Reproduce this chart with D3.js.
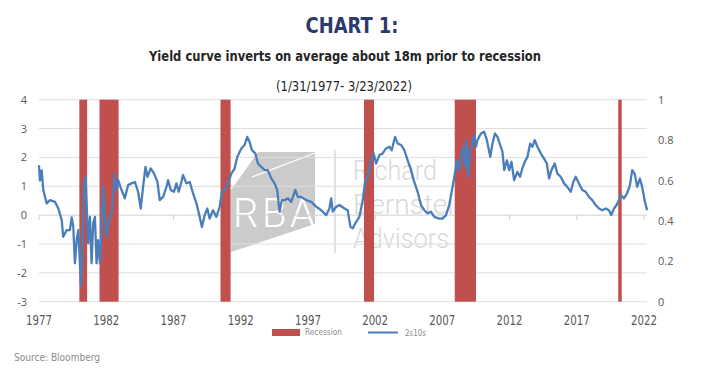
<!DOCTYPE html>
<html>
<head>
<meta charset="utf-8">
<script src="https://cdn.jsdelivr.net/npm/d3@7"></script>
<style>
  body { margin: 0; background: #fff; }
  svg { display: block; }
</style>
</head>
<body>
<svg id="chart"></svg>
<script>
// 2s10s spread (decimal year, percent)
const spreadYears = [
  1977.00, 1977.07, 1977.20, 1977.32, 1977.57, 1977.82, 1978.19, 1978.43, 1978.69, 1978.80,
  1979.06, 1979.30, 1979.43, 1979.55, 1979.67, 1979.80, 1979.92, 1980.12, 1980.21, 1980.36,
  1980.47, 1980.56, 1980.66, 1980.79, 1980.91, 1981.03, 1981.16, 1981.28, 1981.40, 1981.53,
  1981.65, 1981.77, 1981.90, 1982.03, 1982.14, 1982.40, 1982.64, 1982.77, 1982.89, 1983.14,
  1983.38, 1983.63, 1983.88, 1984.13, 1984.37, 1984.57, 1984.74, 1984.92, 1985.07, 1985.31,
  1985.56, 1985.81, 1985.98, 1986.23, 1986.48, 1986.60, 1986.80, 1987.04, 1987.22, 1987.39,
  1987.59, 1987.71, 1987.96, 1988.21, 1988.46, 1988.71, 1988.95, 1989.12, 1989.32, 1989.52,
  1989.69, 1989.94, 1990.19, 1990.44, 1990.61, 1990.81, 1991.05, 1991.31, 1991.55, 1991.75,
  1992.05, 1992.29, 1992.49, 1992.66, 1992.84, 1993.09, 1993.28, 1993.53, 1993.78, 1994.02,
  1994.28, 1994.52, 1994.72, 1994.89, 1995.06, 1995.26, 1995.51, 1995.76, 1996.06, 1996.25,
  1996.50, 1996.87, 1997.25, 1997.62, 1997.99, 1998.36, 1998.60, 1998.73, 1998.85, 1999.10,
  1999.35, 1999.72, 1999.96, 2000.16, 2000.33, 2000.59, 2000.83, 2001.08, 2001.25, 2001.45,
  2001.70, 2001.89, 2002.07, 2002.32, 2002.56, 2002.81, 2003.06, 2003.23, 2003.48, 2003.68,
  2003.93, 2004.17, 2004.42, 2004.67, 2004.91, 2005.16, 2005.41, 2005.66, 2005.90, 2006.15,
  2006.40, 2006.77, 2007.01, 2007.27, 2007.51, 2007.76, 2007.93, 2008.08, 2008.25, 2008.43,
  2008.57, 2008.68, 2008.80, 2008.92, 2009.07, 2009.24, 2009.37, 2009.50, 2009.61, 2009.87,
  2010.11, 2010.31, 2010.56, 2010.73, 2010.91, 2011.10, 2011.30, 2011.47, 2011.60, 2011.80,
  2011.97, 2012.14, 2012.34, 2012.58, 2012.78, 2012.95, 2013.13, 2013.33, 2013.53, 2013.70,
  2013.87, 2014.07, 2014.32, 2014.56, 2014.77, 2014.94, 2015.11, 2015.36, 2015.55, 2015.80,
  2016.05, 2016.29, 2016.55, 2016.74, 2016.92, 2017.16, 2017.41, 2017.66, 2017.91, 2018.15,
  2018.40, 2018.65, 2018.89, 2019.15, 2019.39, 2019.56, 2019.76, 2019.96, 2020.13, 2020.30,
  2020.50, 2020.74, 2020.95, 2021.12, 2021.30, 2021.49, 2021.69, 2021.86, 2022.04, 2022.22
];
const spreadValues = [
  1.73, 1.20, 1.55, 0.87, 0.41, 0.52, 0.46, 0.24, -0.17, -0.75,
  -0.52, -0.52, -0.08, -0.40, -1.67, -0.87, -0.52, -2.43, -1.44, 1.10,
  1.33, 0.17, -0.98, -0.06, -1.67, -0.28, -0.06, -1.67, -0.87, -1.67,
  -0.52, 0.98, -0.06, -0.75, -0.29, 0.06, 1.44, 0.87, 1.21, 0.87,
  0.58, 1.04, 1.10, 1.15, 0.81, 0.23, 0.98, 1.67, 1.33, 1.62,
  1.44, 1.15, 0.52, 0.63, 0.98, 1.21, 0.87, 0.81, 1.10, 0.81,
  1.15, 1.39, 1.10, 1.15, 0.75, 0.41, -0.06, -0.41, 0.00, 0.23,
  -0.12, 0.17, -0.06, 0.29, 0.81, 0.87, 1.10, 1.44, 1.62, 2.02,
  2.31, 2.43, 2.71, 2.54, 2.25, 2.14, 1.79, 1.67, 1.56, 1.56,
  1.27, 1.10, 0.87, 0.12, 0.52, 0.52, 0.58, 0.46, 0.87, 0.63,
  0.63, 0.52, 0.46, 0.29, 0.17, 0.00, 0.23, 0.58, 0.12, 0.29,
  0.35, 0.23, 0.17, -0.40, -0.46, -0.23, -0.06, 0.52, 1.15, 1.33,
  1.90, 2.14, 1.79, 2.08, 2.14, 2.31, 2.37, 2.25, 2.71, 2.48,
  2.43, 2.25, 1.90, 1.56, 1.15, 0.81, 0.35, 0.17, 0.06, 0.12,
  -0.06, -0.12, -0.12, 0.00, 0.35, 0.98, 1.44, 1.90, 1.56, 2.14,
  2.37, 1.67, 2.60, 1.33, 2.14, 2.48, 2.77, 2.37, 2.60, 2.83,
  2.89, 2.60, 2.02, 2.48, 2.83, 2.71, 2.43, 2.19, 1.56, 1.90,
  1.56, 1.85, 1.21, 1.50, 1.33, 1.62, 1.85, 2.02, 2.48, 2.37,
  2.60, 2.37, 2.14, 1.96, 1.79, 1.27, 1.56, 1.79, 1.44, 1.33,
  1.10, 0.98, 0.81, 1.15, 1.33, 1.10, 0.87, 0.81, 0.63, 0.52,
  0.35, 0.23, 0.17, 0.23, 0.17, 0.00, 0.23, 0.35, 0.52, 0.69,
  0.58, 0.75, 1.04, 1.56, 1.44, 0.98, 1.27, 0.98, 0.52, 0.17
];

// recessions (right axis, value 1 = full height)
const recessionStart = [1980.00, 1981.50, 1990.50, 2001.17, 2007.92, 2020.08];
const recessionEnd = [1980.58, 1982.92, 1991.25, 2001.92, 2009.50, 2020.33];
const recessionValue = 1;

const xTicks = [1977, 1982, 1987, 1992, 1997, 2002, 2007, 2012, 2017, 2022];
const leftTicks = [4, 3, 2, 1, 0, -1, -2, -3];
const rightTicks = [1, 0.8, 0.6, 0.4, 0.2, 0];

const width = 703;
const height = 373;
const plot = { left: 39, right: 647, top: 99.7, bottom: 301.7 };

const svg = d3.select("#chart").attr("width", width).attr("height", height);

const x = d3.scaleLinear().domain([1977, 2022.22]).range([plot.left, plot.right]);
const y = d3.scaleLinear().domain([-3, 4]).range([plot.bottom, plot.top]);
const y2 = d3.scaleLinear().domain([0, 1]).range([plot.bottom, plot.top]);

const narrow = "'Liberation Sans Narrow', 'DejaVu Sans Condensed', sans-serif";

// titles (squeezed to the condensed width of the original)
svg.append("text")
  .attr("x", 352).attr("y", 33)
  .attr("text-anchor", "middle")
  .attr("textLength", 93).attr("lengthAdjust", "spacingAndGlyphs")
  .style("font-family", narrow).style("font-weight", "bold")
  .style("font-size", "22px").style("fill", "#2c3a6e")
  .text("CHART 1:");

svg.append("text")
  .attr("x", 345).attr("y", 61)
  .attr("text-anchor", "middle")
  .attr("textLength", 392).attr("lengthAdjust", "spacingAndGlyphs")
  .style("font-family", narrow).style("font-weight", "bold")
  .style("font-size", "14.5px").style("fill", "#262626")
  .text("Yield curve inverts on average about 18m prior to recession");

svg.append("text")
  .attr("x", 344).attr("y", 91)
  .attr("text-anchor", "middle")
  .attr("textLength", 136).attr("lengthAdjust", "spacingAndGlyphs")
  .style("font-family", narrow)
  .style("font-size", "14px").style("fill", "#262626")
  .text("(1/31/1977- 3/23/2022)");

// watermark
const wm = svg.append("g").attr("class", "watermark");
wm.append("path")
  .attr("d", "M231,190 L258,152 L315,152 L315,224 L231,252 Z")
  .attr("fill", "#cbcbcb");
wm.append("line")
  .attr("x1", 252).attr("y1", 177).attr("x2", 315).attr("y2", 153)
  .attr("stroke", "#fff").attr("stroke-width", 1.2);
wm.append("text")
  .attr("x", 233).attr("y", 227)
  .attr("textLength", 82).attr("lengthAdjust", "spacing")
  .style("font-family", "Roboto, 'Open Sans', sans-serif")
  .style("font-weight", 300).style("font-size", "40px")
  .attr("fill", "#fff")
  .text("RBA");
wm.append("line")
  .attr("x1", 335).attr("y1", 150).attr("x2", 335).attr("y2", 253)
  .attr("stroke", "#d0d0d0").attr("stroke-width", 1.2);
const wmWords = ["Richard", "Bernstein", "Advisors"];
const wmWidths = [84, 116, 96];
wmWords.forEach((t, i) => {
  wm.append("text")
    .attr("x", 353).attr("y", 180 + i * 34)
    .attr("textLength", wmWidths[i]).attr("lengthAdjust", "spacingAndGlyphs")
    .style("font-family", "Roboto, 'Open Sans', sans-serif")
    .style("font-weight", 300).style("font-size", "28px")
    .attr("fill", "#d9d9d9")
    .text(t);
});

// gridlines
svg.append("g")
  .selectAll("line")
  .data(leftTicks)
  .enter()
  .append("line")
  .attr("x1", plot.left).attr("x2", plot.right)
  .attr("y1", (d) => y(d)).attr("y2", (d) => y(d))
  .attr("stroke", (d) => (d === 0 ? "#cfcfcf" : "#dedede"))
  .attr("stroke-width", 1);

// tick marks on the zero line
svg.append("g")
  .selectAll("line")
  .data(xTicks)
  .enter()
  .append("line")
  .attr("x1", (d) => x(d)).attr("x2", (d) => x(d))
  .attr("y1", y(0)).attr("y2", y(0) + 5)
  .attr("stroke", "#cfcfcf");

// recession bars
svg.append("g")
  .selectAll("rect")
  .data(recessionStart)
  .enter()
  .append("rect")
  .attr("x", (d) => x(d))
  .attr("width", (d, i) => Math.max(3.5, x(recessionEnd[i]) - x(d)))
  .attr("y", y2(recessionValue))
  .attr("height", y2(0) - y2(recessionValue))
  .attr("fill", "#c0504d");

// 2s10s line
const line = d3.line()
  .x((d, i) => x(spreadYears[i]))
  .y((d) => y(d));

svg.append("path")
  .datum(spreadValues)
  .attr("d", line)
  .attr("fill", "none")
  .attr("stroke", "#4a7ebb")
  .attr("stroke-width", 2.3)
  .attr("stroke-linejoin", "round");

// axes labels
const axisFont = "'Open Sans', sans-serif";

svg.append("g")
  .selectAll("text")
  .data(leftTicks)
  .enter()
  .append("text")
  .attr("x", 27)
  .attr("y", (d) => y(d) + 4)
  .attr("text-anchor", "end")
  .style("font-family", axisFont).style("font-size", "11px")
  .style("fill", "#595959")
  .text((d) => d);

svg.append("g")
  .selectAll("text")
  .data(rightTicks)
  .enter()
  .append("text")
  .attr("x", 658)
  .attr("y", (d) => y2(d) + 4)
  .style("font-family", axisFont).style("font-size", "11px")
  .style("fill", "#595959")
  .text((d) => d);

svg.append("g")
  .selectAll("text")
  .data(xTicks)
  .enter()
  .append("text")
  .attr("x", (d) => x(d))
  .attr("y", 325)
  .attr("text-anchor", "middle")
  .attr("textLength", 26).attr("lengthAdjust", "spacingAndGlyphs")
  .style("font-family", narrow).style("font-size", "13.5px")
  .style("fill", "#595959")
  .text((d) => d);

// legend
svg.append("rect")
  .attr("x", 272).attr("y", 329).attr("width", 28).attr("height", 7)
  .attr("fill", "#c0504d");
svg.append("text")
  .attr("x", 305).attr("y", 335)
  .attr("textLength", 37).attr("lengthAdjust", "spacingAndGlyphs")
  .style("font-family", narrow).style("font-size", "8px")
  .style("fill", "#8c8c8c")
  .text("Recession");
svg.append("line")
  .attr("x1", 368).attr("x2", 398).attr("y1", 332.5).attr("y2", 332.5)
  .attr("stroke", "#4a7ebb").attr("stroke-width", 2);
svg.append("text")
  .attr("x", 405).attr("y", 336)
  .attr("textLength", 21).attr("lengthAdjust", "spacingAndGlyphs")
  .style("font-family", narrow).style("font-size", "8px")
  .style("fill", "#8c8c8c")
  .text("2s10s");

svg.append("text")
  .attr("x", 14).attr("y", 361)
  .attr("textLength", 86).attr("lengthAdjust", "spacingAndGlyphs")
  .style("font-family", narrow).style("font-size", "11px")
  .style("fill", "#8c8c8c")
  .text("Source: Bloomberg");
</script>
</body>
</html>
